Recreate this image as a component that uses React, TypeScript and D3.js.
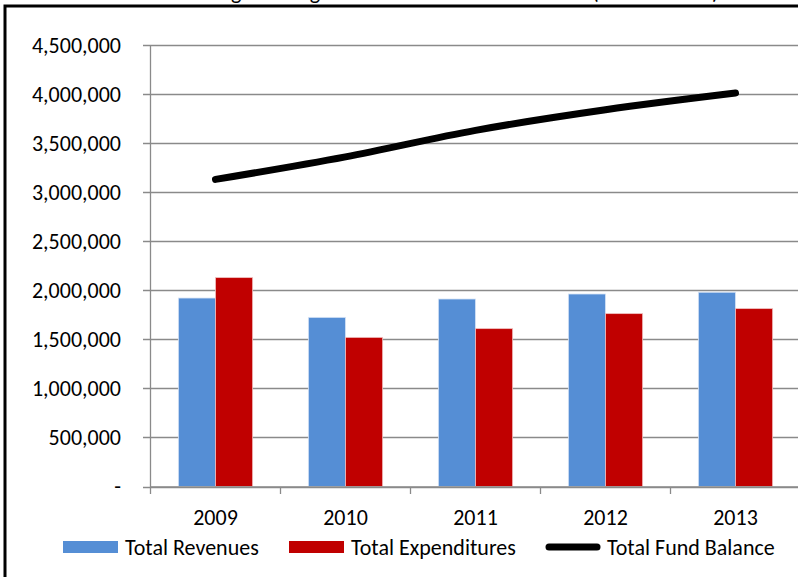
import React from "react";
import * as d3 from "d3";

const years = ["2009", "2010", "2011", "2012", "2013"];
const revenues = [1921000, 1724000, 1911000, 1962000, 1980000];
const expenditures = [2129000, 1520000, 1609000, 1762000, 1813000];
const fundBalance = [3130000, 3360000, 3630000, 3840000, 4010000];
const yTicks = [0, 500000, 1000000, 1500000, 2000000, 2500000, 3000000, 3500000, 4000000, 4500000];
const seriesNames = ["Total Revenues", "Total Expenditures", "Total Fund Balance"];
const titleText = "Total Budget Change in the General Fund Balance (Actual Totals)";

const W = 798;
const H = 577;
const FONT = "Carlito, Calibri, 'Open Sans', sans-serif";
const FS = 22;
const BLUE = "#558ED5";
const RED = "#C00000";
const GRID = "#8a8a8a";

export default function App() {
  const x = d3.scaleBand<string>().domain(years).range([150.5, 800.5]).paddingInner(0).paddingOuter(0);
  const y = d3.scaleLinear().domain([0, 4500000]).range([486.5, 45]);
  const bw = x.bandwidth() / 3.5;
  const fmt = (v: number) => (v === 0 ? "-" : d3.format(",")(v));
  const cx = (yr: string) => (x(yr) as number) + x.bandwidth() / 2;

  const line = d3
    .line<number>()
    .x((_, i) => cx(years[i]))
    .y((d) => y(d))
    .curve(d3.curveCatmullRom.alpha(0));

  const legendY = 547;

  return (
    <svg
      width={W}
      height={H}
      style={{ position: "absolute", left: 0, top: 0, background: "#fff" }}
      fontFamily={FONT}
    >
      <rect x={0} y={0} width={W} height={H} fill="#fff" />
      <text x={148} y={-1} fontSize={FS} fill="#000">
        {titleText}
      </text>
      {/* frame */}
      <rect x={5} y={6} width={W + 20} height={H + 20} fill="none" stroke="#000" strokeWidth={3} />

      {/* gridlines */}
      {yTicks.map((t) => (
        <g key={t}>
          <line x1={143} x2={W} y1={Math.round(y(t)) + 0.5} y2={Math.round(y(t)) + 0.5} stroke={GRID} strokeWidth={1.3} />
          <text x={121} y={y(t) + 7.5} textAnchor="end" fontSize={FS} fill="#000">
            {fmt(t)}
          </text>
        </g>
      ))}
      {/* y axis */}
      <line x1={150.5} x2={150.5} y1={45} y2={487} stroke={GRID} strokeWidth={1.3} />

      {/* bars */}
      {years.map((yr, i) => (
        <g key={yr}>
          <rect
            x={cx(yr) - bw}
            y={y(revenues[i])}
            width={bw}
            height={y(0) - y(revenues[i])}
            fill={BLUE}
            stroke="#d6e3f5"
            strokeWidth={0.8}
          />
          <rect
            x={cx(yr)}
            y={y(expenditures[i])}
            width={bw}
            height={y(0) - y(expenditures[i])}
            fill={RED}
            stroke="#f0c0c0"
            strokeWidth={0.8}
          />
        </g>
      ))}

      {/* x axis */}
      <line x1={150} x2={W} y1={487} y2={487} stroke={GRID} strokeWidth={1.3} />
      {years.map((yr) => (
        <line key={"t" + yr} x1={(x(yr) as number)} x2={(x(yr) as number)} y1={487} y2={494} stroke={GRID} strokeWidth={1.3} />
      ))}
      {years.map((yr) => (
        <text key={"l" + yr} x={cx(yr)} y={525} textAnchor="middle" fontSize={FS} fill="#000">
          {yr}
        </text>
      ))}

      {/* line */}
      <path d={line(fundBalance) || ""} fill="none" stroke="#000" strokeWidth={7} strokeLinecap="round" strokeLinejoin="round" />

      {/* legend */}
      <rect x={63} y={legendY - 6} width={55} height={12} fill={BLUE} />
      <text x={125} y={legendY + 7.5} fontSize={FS} fill="#000">
        {seriesNames[0]}
      </text>
      <rect x={289} y={legendY - 6} width={55} height={12} fill={RED} />
      <text x={351} y={legendY + 7.5} fontSize={FS} fill="#000">
        {seriesNames[1]}
      </text>
      <line x1={549} x2={597} y1={legendY} y2={legendY} stroke="#000" strokeWidth={7} strokeLinecap="round" />
      <text x={607} y={legendY + 7.5} fontSize={FS} fill="#000">
        {seriesNames[2]}
      </text>
    </svg>
  );
}
